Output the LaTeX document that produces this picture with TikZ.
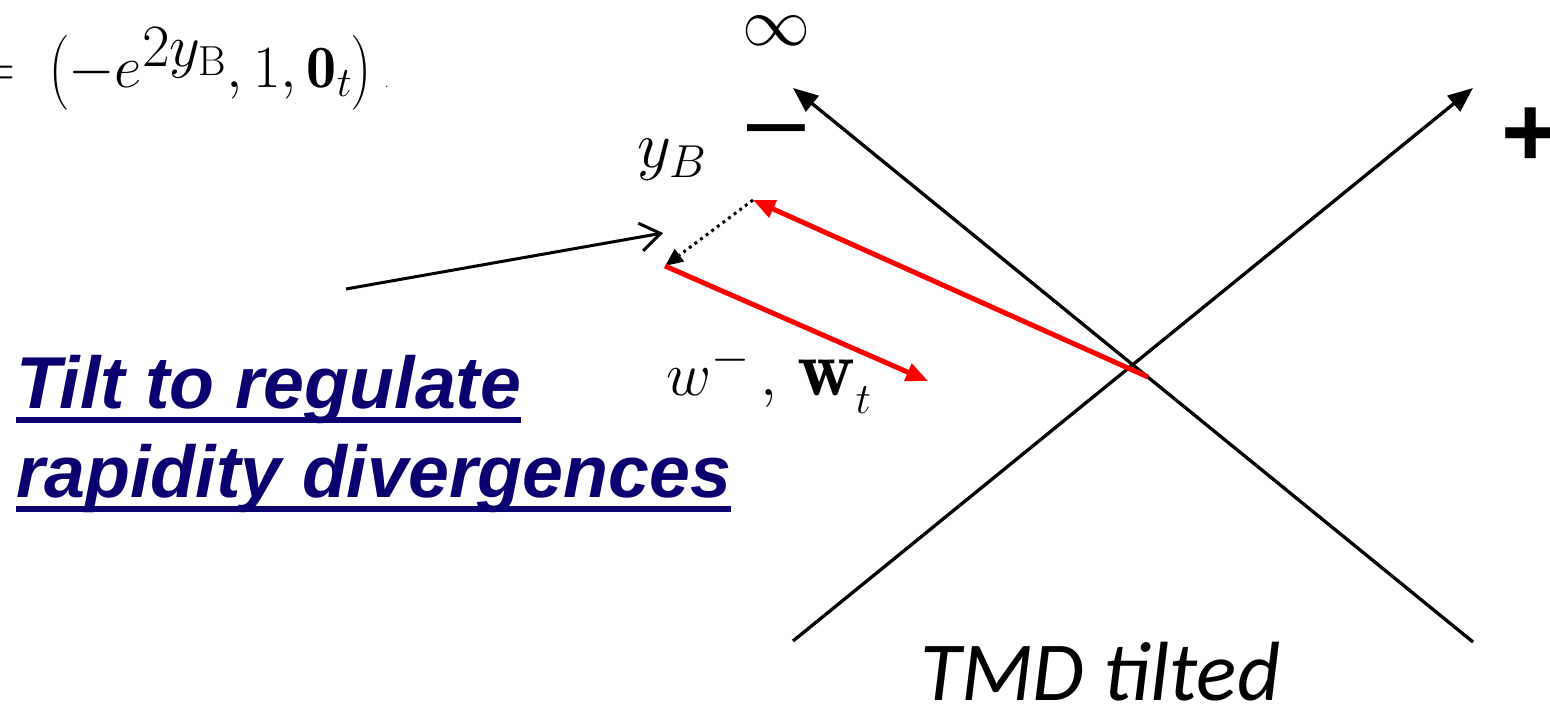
\RequirePackage{fix-cm}
\documentclass[tikz,border=0pt]{standalone}
\usepackage{amsmath}
\usepackage{fontspec}
\usetikzlibrary{arrows.meta}
\newfontfamily\arialfont{Liberation Sans}
\newfontfamily\calibrifont{Carlito}
\definecolor{tiltnavy}{HTML}{0A0070}

\begin{document}
\begin{tikzpicture}[
    x=1pt, y=-1pt,
    every node/.style={inner sep=0pt},
    axisline/.style={line width=3.3pt, -{Triangle[length=25pt,width=20pt]}},
    redarrow/.style={line width=5pt, red, -{Triangle[length=22pt,width=18pt]}},
    dotarrow/.style={line width=3pt, dash pattern=on 3pt off 4pt, -{Triangle[length=18pt,width=15pt]}},
    pointer/.style={line width=3pt, -{Straight Barb[length=20pt,width=28pt]}},
    tiltlabel/.style={anchor=base west, text=tiltnavy, font=\arialfont\bfseries\itshape\fontsize{73.5}{86}\selectfont},
    uline/.style={line width=6pt, tiltnavy}
]
\useasboundingbox (0,0) rectangle (1550,706);

% light-cone axes
\coordinate (lowleft) at (793,641);
\coordinate (lowright) at (1473,642);
\coordinate (plusend) at (1473,88);
\coordinate (minusend) at (793,88);
\draw[axisline] (lowleft) -- (plusend);
\draw[axisline] (lowright) -- (minusend);

\node (infty) at (776,31) {\fontsize{68}{80}\selectfont$\infty$};
\node[anchor=base] (minus) at (776,154) {\arialfont\fontsize{104}{110}\selectfont –};
\node[anchor=base] (plus) at (1531,166) {\arialfont\bfseries\fontsize{100}{110}\selectfont +};

% boost vector
\node[anchor=base east] (boost) at (389,88)
{\fontsize{60}{72}\selectfont$=\;\bigl(-e^{\textstyle 2y_{\mathrm{B}}},1,\mathbf{0}_t\bigr)$\hspace{13pt}\mbox{\fontsize{14}{14}\selectfont.}};

% tilted Wilson line
\coordinate (vertex) at (1148,377);
\coordinate (ybend) at (753,200);
\coordinate (wbegin) at (665,266);
\coordinate (wend) at (928,381);
\draw[redarrow] (vertex) -- (ybend);
\draw[dotarrow] (ybend) -- (wbegin);
\draw[redarrow] (wbegin) -- (wend);

\node (yb) at (672,160) {\fontsize{66}{80}\selectfont$y_B$};
\node[anchor=base west] (wlabel) at (666,395)
{\fontsize{62}{80}\selectfont$w^{\mbox{\fontsize{49}{50}\selectfont$-$}}\,,\,\mbox{\fontsize{80}{80}\selectfont$\mathbf{w}$}_{\raisebox{-9pt}{$\scriptstyle t$}}$};

% caption
\node[tiltlabel] (tiltA) at (16,408) {Tilt to regulate};
\node[tiltlabel] (tiltB) at (16,497) {rapidity divergences};
\draw[uline] ([yshift=-12pt]tiltA.base west) -- ([yshift=-12pt]tiltA.base east);
\draw[uline] ([yshift=-12pt]tiltB.base west) -- ([yshift=-12pt]tiltB.base east);

\coordinate (tiltfrom) at (346,289);
\coordinate (tiltto) at (663,233);
\draw[pointer] (tiltfrom) -- (tiltto);

\node[anchor=base west] (tmd) at (920,700) {\calibrifont\itshape\fontsize{84}{90}\selectfont TMD tilted};

\end{tikzpicture}
\end{document}
